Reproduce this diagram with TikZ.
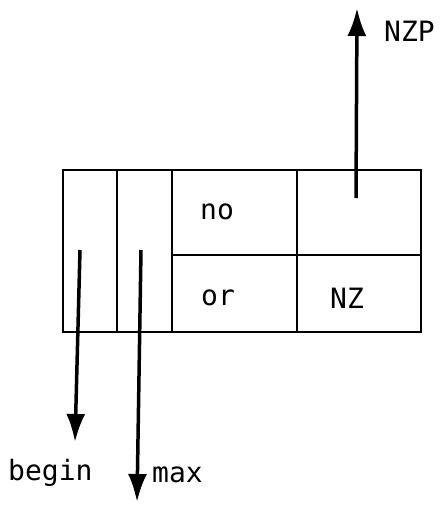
\documentclass[tikz,border=0pt]{standalone}
\usepackage{fontspec}
\setmainfont{DejaVu Sans Mono}
\usetikzlibrary{arrows.meta}
\begin{document}
\begin{tikzpicture}[x=1pt,y=-1pt,
  frame/.style={line width=1.3pt},
  lbl/.style={font=\fontsize{28}{28}\selectfont,inner sep=0pt},
  ptr/.style={line width=3.5pt,-{Latex[length=28pt,width=19pt]}}]
\useasboundingbox (0,0) rectangle (440,516);
\fill[white] (0,0) rectangle (440,516);
\draw[frame] (63,170) rectangle (421,332);
\draw[frame] (117,170) -- (117,332);
\draw[frame] (172,170) -- (172,332);
\draw[frame] (297,170) -- (297,332);
\draw[frame] (172,255) -- (421,255);
\node[lbl] (no) at (217,212) {no};
\node[lbl] (or) at (218,298) {or};
\node[lbl] (nz) at (347,298) {NZ};
\coordinate (s1) at (80,250);
\coordinate (e1) at (75,442);
\coordinate (s2) at (141,250);
\coordinate (e2) at (137,502);
\coordinate (s3) at (356,198);
\coordinate (e3) at (357,8);
\draw[ptr] (s1) -- (e1);
\draw[ptr] (s2) -- (e2);
\draw[ptr] (s3) -- (e3);
\node[lbl,anchor=west] (nzp) at (384,31) {NZP};
\node[lbl,anchor=west] (begin) at (8,473) {begin};
\node[lbl,anchor=west] (max) at (152,475) {max};
\end{tikzpicture}
\end{document}
